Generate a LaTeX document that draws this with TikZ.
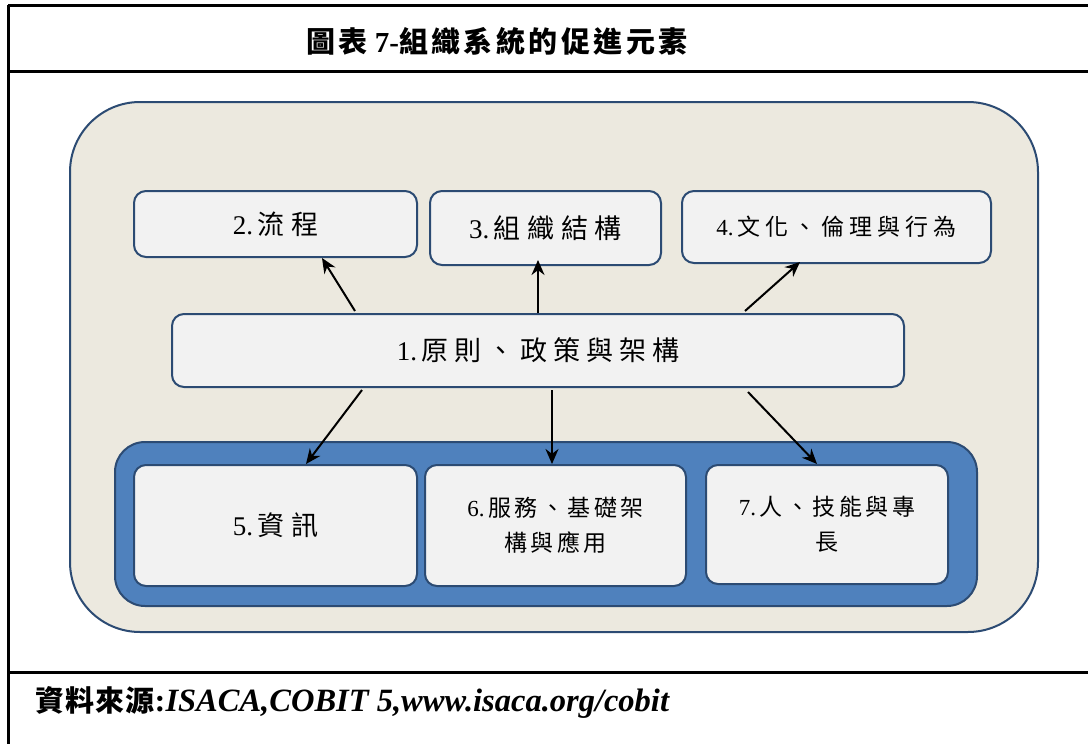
\documentclass[tikz,border=0pt]{standalone}
\usepackage{fontspec}
\setmainfont{Liberation Serif}
\newfontfamily\cjk[LetterSpace=25]{Noto Sans CJK TC}
\newfontfamily\cjkq[LetterSpace=22]{Noto Sans CJK TC}
\newfontfamily\cjks[LetterSpace=22]{Noto Sans CJK TC}
\newfontfamily\cjkm[LetterSpace=15]{Noto Sans CJK TC}
\newfontfamily\cjkt[LetterSpace=12]{Noto Sans CJK TC Bold}
\newfontfamily\cjkf[LetterSpace=4]{Noto Sans CJK TC Bold}
\usetikzlibrary{arrows.meta,calc}
\definecolor{beige}{HTML}{ECE9DF}
\definecolor{boxfill}{HTML}{F2F2F2}
\definecolor{edge}{HTML}{2C4B73}
\definecolor{blue}{HTML}{4F81BD}
\tikzset{
  frame/.style={line width=3pt,black},
  item/.style={draw=edge,line width=2pt,fill=boxfill,rounded corners=12pt,anchor=north west,inner sep=0pt,align=center},
  big/.style={font=\fontsize{27}{30}\selectfont},
  mid/.style={font=\fontsize{23}{35}\selectfont},
  arr/.style={line width=2pt,-{Stealth[length=15pt,width=13pt]}}
}
\begin{document}
\begin{tikzpicture}[x=1pt,y=-1pt]
\fill[white] (0,0) rectangle (1088,744);
\useasboundingbox (0,0) rectangle (1088,744);
% frame
\draw[frame] (8,5) -- (1088,5);
\draw[frame] (8,71) -- (1088,71);
\draw[frame] (8,672) -- (1088,672);
\draw[frame] (8,5) -- (8,744);
\node[font=\fontsize{29}{30}\selectfont\bfseries] (title) at (497,41) {{\cjkt 圖表} 7-{\cjkt 組織系統的促進元素}};
% big container
\draw[draw=edge,line width=2pt,fill=beige,rounded corners=70pt] (70,102) rectangle (1038,632);
% blue container
\draw[draw=edge,line width=2pt,fill=blue,rounded corners=30pt] (115,442) rectangle (977,606);
% boxes
\node[item,big,minimum width=283pt,minimum height=66pt] (b2) at (133,190) {2.\,{\cjk 流程}};
\node[item,big,minimum width=231pt,minimum height=74pt] (b3) at (429,190) {3.\,{\cjk 組織結構}};
\node[item,font=\fontsize{23}{28}\selectfont,minimum width=309pt,minimum height=72pt] (b4) at (681,190) {4.\,{\cjkq 文化、倫理與行為}};
\node[item,big,minimum width=732pt,minimum height=73pt] (b1) at (171,313) {1.\,{\cjks 原則、政策與架構}};
\node[item,big,minimum width=283pt,minimum height=121pt] (b5) at (133,464) {5.\,{\cjk 資訊}};
\node[item,mid,minimum width=261pt,minimum height=121pt] (b6) at (424,464) {6.\,{\cjkm 服務、基礎架}\\{\cjkm 構與應用}};
\node[item,mid,minimum width=242pt,minimum height=119pt] (b7) at (705,464) {7.\,{\cjkm 人、技能與專}\\{\cjkm 長}};
% arrows
\draw[arr] ($(b1.north west)+(184,-2)$) -- ($(b2.south west)+(189,0)$);
\draw[arr] ($(b1.north west)+(367,0)$) -- ($(b3.south west)+(109,-6)$);
\draw[arr] ($(b1.north west)+(574,-2)$) -- ($(b4.south west)+(119,-2)$);
\draw[arr] ($(b1.south west)+(191,2)$) -- ($(b5.north west)+(173,0)$);
\draw[arr] ($(b1.south west)+(381,2)$) -- ($(b6.north west)+(128,0)$);
\draw[arr] ($(b1.south west)+(577,4)$) -- ($(b7.north west)+(112,0)$);
% footer
\node[anchor=west,inner sep=0pt] (src) at (35,702) {\fontsize{29}{30}\selectfont\bfseries{\cjkf 資料來源}\fontsize{32.5}{30}\selectfont:\itshape ISACA,COBIT 5,www.isaca.org/cobit};
\end{tikzpicture}
\end{document}
